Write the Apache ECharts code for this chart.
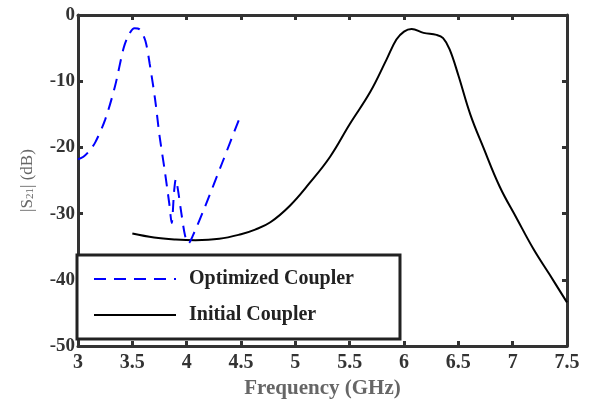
<!DOCTYPE html>
<html lang="en">
<head>
    <meta charset="UTF-8">
    <title>S21 - Coupler</title>
    <style>
        html, body { margin: 0; padding: 0; background: #fff; }
        #main { width: 592px; height: 404px; }
    </style>
</head>
<body>
    <div id="main"></div>
</body>
</html>
<script src="https://cdn.jsdelivr.net/npm/echarts@6/dist/echarts.min.js"></script>
<script>
    // 数据
    var optFreq = [3.0, 3.05, 3.1, 3.16, 3.25, 3.34, 3.42, 3.47, 3.52, 3.57, 3.62, 3.66, 3.71, 3.75, 3.80, 3.84, 3.862,
        3.885, 3.90, 3.92, 3.95, 3.985, 4.015, 4.06, 4.17, 4.33, 4.5];
    var optS21 = [-21.8, -21.4, -20.6, -19.2, -15.8, -10.8, -5.0, -2.9, -2.0, -2.2, -3.9, -7.4, -12.8, -18.2, -23.7, -28.5, -31.4,
        -26.5, -24.8, -26.4, -29.8, -33.3, -34.5, -33.2, -28.9, -22.2, -15.0];
    var initFreq = [3.5, 3.7, 3.9, 4.08, 4.3, 4.5, 4.63, 4.77, 4.95, 5.13, 5.32, 5.5, 5.69, 5.84, 5.93, 6.0, 6.07, 6.18, 6.3,
        6.36, 6.42, 6.5, 6.61, 6.73, 6.88, 7.04, 7.19, 7.34, 7.5];
    var initS21 = [-33.0, -33.6, -33.9, -34.0, -33.8, -33.1, -32.4, -31.3, -28.8, -25.4, -21.4, -16.5, -11.6, -6.7, -3.7, -2.5,
        -2.1, -2.7, -3.0, -3.5, -5.2, -9.1, -15.0, -20.0, -25.9, -30.8, -35.3, -39.2, -43.4];
    var xTicks = { min: 3, max: 7.5, interval: 0.5 };
    var yTicks = { min: -50, max: 0, interval: 10 };

    var pairs = function (xs, ys) {
        return xs.map(function (x, i) { return [x, ys[i]]; });
    };

    var serif = '"Liberation Serif", "Times New Roman", serif';
    var axisColor = '#333';

    var mainMap = echarts.init(document.getElementById('main'));
    var sideAxis = function (pos) {
        return {
            type: 'value', position: pos,
            min: pos === 'top' ? xTicks.min : yTicks.min,
            max: pos === 'top' ? xTicks.max : yTicks.max,
            interval: pos === 'top' ? xTicks.interval : yTicks.interval,
            axisLine: { show: true, onZero: false, lineStyle: { color: axisColor, width: 3 } },
            axisTick: { show: true, inside: true, length: 5, lineStyle: { color: axisColor, width: 3 } },
            axisLabel: { show: false },
            splitLine: { show: false }
        };
    };

    var option = {
        animation: false,
        backgroundColor: '#fff',
        grid: { left: 78, right: 25, top: 15, bottom: 51 },
        legend: {
            orient: 'vertical',
            left: 77, top: 255,
            padding: [14, 46, 14, 16],
            itemGap: 16,
            itemWidth: 82,
            itemHeight: 20,
            backgroundColor: '#fff',
            borderColor: '#222',
            borderWidth: 3,
            borderRadius: 0,
            itemStyle: { opacity: 0 },
            textStyle: { fontFamily: serif, fontWeight: 'bold', fontSize: 20, color: '#222', padding: [0, 0, 0, 8] },
            data: ['Optimized Coupler', 'Initial Coupler']
        },
        xAxis: [{
            type: 'value',
            min: xTicks.min, max: xTicks.max, interval: xTicks.interval,
            name: 'Frequency (GHz)',
            nameLocation: 'middle',
            nameGap: 27,
            nameTextStyle: { fontFamily: serif, fontWeight: 'bold', fontSize: 21, color: '#666' },
            axisLine: { onZero: false, lineStyle: { color: axisColor, width: 3 } },
            axisTick: { inside: true, length: 5, lineStyle: { color: axisColor, width: 3 } },
            axisLabel: { margin: 7, fontFamily: serif, fontWeight: 'bold', fontSize: 20, color: '#333' },
            splitLine: { show: false }
        }, sideAxis('top')],
        yAxis: [{
            type: 'value',
            min: yTicks.min, max: yTicks.max, interval: yTicks.interval,
            name: '|S{sub|21}| (dB)',
            nameLocation: 'middle',
            nameRotate: 90,
            nameGap: 42,
            nameTextStyle: {
                fontFamily: serif, fontSize: 17, color: '#666',
                rich: { sub: { fontFamily: serif, fontSize: 11, color: '#666', verticalAlign: 'bottom', padding: [6, 0, 0, 0] } }
            },
            axisLine: { onZero: false, lineStyle: { color: axisColor, width: 3 } },
            axisTick: { inside: true, length: 5, lineStyle: { color: axisColor, width: 3 } },
            axisLabel: { margin: 3, fontFamily: serif, fontWeight: 'bold', fontSize: 19, color: '#333' },
            splitLine: { show: false }
        }, sideAxis('right')],
        series: [{
            name: 'Optimized Coupler',
            type: 'line',
            data: pairs(optFreq, optS21),
            smooth: 0.3,
            symbol: 'none',
            z: 3,
            lineStyle: { color: '#0000ff', width: 2, type: [12, 8] },
            itemStyle: { color: '#0000ff' }
        }, {
            name: 'Initial Coupler',
            type: 'line',
            data: pairs(initFreq, initS21),
            smooth: 0.4,
            symbol: 'none',
            z: 2,
            lineStyle: { color: '#000', width: 2 },
            itemStyle: { color: '#000' }
        }]
    };
    mainMap.setOption(option);
</script>
